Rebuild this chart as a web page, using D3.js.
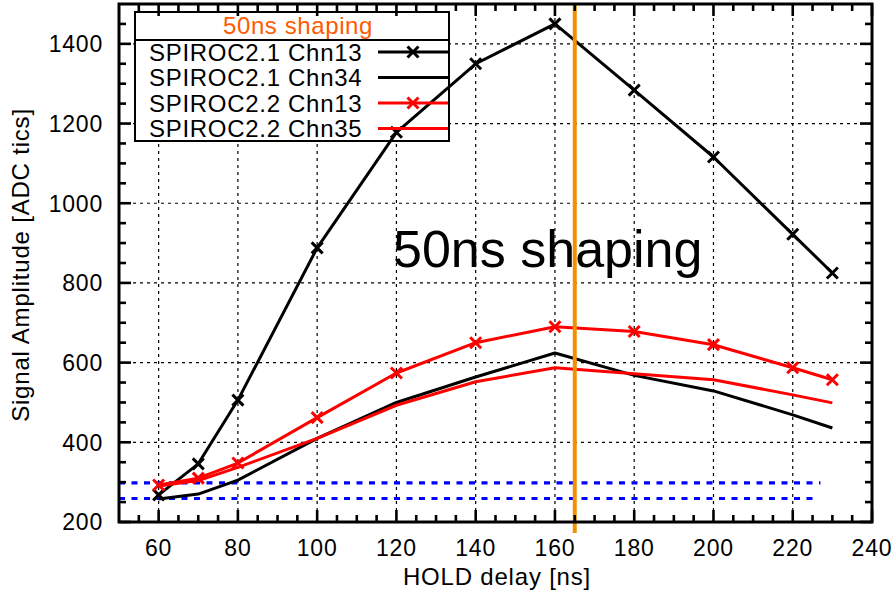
<!DOCTYPE html>
<html>
<head>
<meta charset="utf-8">
<script src="https://cdn.jsdelivr.net/npm/d3@7"></script>
<style>
  body { margin: 0; background: #fff; }
  text { font-family: "Liberation Sans", Arial, sans-serif; }
</style>
</head>
<body>
<div id="chart"></div>
<script>
// data
const holdDelay = [60, 70, 80, 100, 120, 140, 160, 180, 200, 220, 230];
const spiroc21Chn13 = [268, 346, 506, 888, 1178, 1350, 1450, 1284, 1116, 922, 825];
const spiroc21Chn34 = [258, 270, 305, 410, 500, 564, 624, 568, 529, 469, 436];
const spiroc22Chn13 = [293, 310, 348, 462, 574, 650, 690, 678, 645, 587, 557];
const spiroc22Chn35 = [290, 304, 337, 410, 493, 552, 587, 572, 557, 519, 499];
const seriesNames = ["SPIROC2.1 Chn13", "SPIROC2.1 Chn34", "SPIROC2.2 Chn13", "SPIROC2.2 Chn35"];
const xTicks = [60, 80, 100, 120, 140, 160, 180, 200, 220, 240];
const yTicks = [200, 400, 600, 800, 1000, 1200, 1400];
const pedestalLevels = [298, 259];
const pedestalEnds = [227, 225];
const shapingMark = 165;

const width = 893, height = 593;
const plotL = 119, plotR = 872, plotT = 4, plotB = 522;

const x = d3.scaleLinear().domain([50, 240]).range([plotL, plotR]);
const y = d3.scaleLinear().domain([200, 1500]).range([plotB, plotT]);

const svg = d3.select("#chart").append("svg")
    .attr("width", width)
    .attr("height", height);

// grid
const grid = svg.append("g")
    .attr("stroke", "#000")
    .attr("stroke-width", 1.2)
    .attr("stroke-dasharray", "3,4");
grid.selectAll("line.gx")
    .data(xTicks.filter(d => d > 50 && d < 240))
    .enter().append("line")
    .attr("x1", d => x(d)).attr("x2", d => x(d))
    .attr("y1", plotT).attr("y2", plotB);
grid.selectAll("line.gy")
    .data(yTicks.filter(d => d > 200))
    .enter().append("line")
    .attr("x1", plotL).attr("x2", plotR)
    .attr("y1", d => y(d)).attr("y2", d => y(d));

// pedestal lines
svg.selectAll("line.ped")
    .data(pedestalLevels)
    .enter().append("line")
    .attr("x1", x(50))
    .attr("x2", (d, i) => x(pedestalEnds[i]))
    .attr("y1", d => y(d)).attr("y2", d => y(d))
    .attr("stroke", "#0000ff")
    .attr("stroke-width", 3.2)
    .attr("stroke-dasharray", "6,6.5");

// legend box (drawn under the curves)
const lg = svg.append("g");
lg.append("rect")
    .attr("x", 135).attr("y", 12)
    .attr("width", 314).attr("height", 129)
    .attr("fill", "#fff")
    .attr("stroke", "#000")
    .attr("stroke-width", 2);
lg.append("line")
    .attr("x1", 135).attr("x2", 449)
    .attr("y1", 40).attr("y2", 40)
    .attr("stroke", "#000").attr("stroke-width", 2);
lg.append("text")
    .attr("x", 298).attr("y", 26).attr("dy", "0.35em")
    .attr("text-anchor", "middle")
    .attr("font-size", 24)
    .attr("letter-spacing", 0.6)
    .attr("fill", "#ff5a00")
    .text("50ns shaping");

const series = [
    { values: spiroc21Chn13, color: "#000", marker: true },
    { values: spiroc21Chn34, color: "#000", marker: false },
    { values: spiroc22Chn13, color: "#ff0000", marker: true },
    { values: spiroc22Chn35, color: "#ff0000", marker: false }
];

const line = d3.line()
    .x(d => x(d[0]))
    .y(d => y(d[1]));

function cross(g, cx, cy, color) {
    const s = 5.5;
    g.append("path")
        .attr("d", `M${cx - s},${cy - s}L${cx + s},${cy + s}M${cx - s},${cy + s}L${cx + s},${cy - s}`)
        .attr("stroke", color)
        .attr("stroke-width", 3)
        .attr("fill", "none");
}

series.forEach((s, i) => {
    const pts = holdDelay.map((d, j) => [d, s.values[j]]);
    const g = svg.append("g");
    g.append("path")
        .datum(pts)
        .attr("d", line)
        .attr("fill", "none")
        .attr("stroke", s.color)
        .attr("stroke-width", 3)
        .attr("stroke-linejoin", "round");
    if (s.marker) {
        pts.forEach(p => cross(g, x(p[0]), y(p[1]), s.color));
    }

    // legend entry
    const ly = 52 + i * 25.5;
    lg.append("text")
        .attr("x", 149).attr("y", ly).attr("dy", "0.36em")
        .attr("font-size", 24)
        .attr("letter-spacing", 0.7)
        .text(seriesNames[i]);
    svg.append("line")
        .attr("x1", 378).attr("x2", 448)
        .attr("y1", ly).attr("y2", ly)
        .attr("stroke", s.color).attr("stroke-width", 3);
    if (s.marker) cross(svg, 413, ly, s.color);
});

// big annotation
svg.append("text")
    .attr("x", 393).attr("y", 267)
    .attr("font-size", 52)
    .text("50ns shaping");

// shaping time marker
svg.append("line")
    .attr("x1", x(shapingMark)).attr("x2", x(shapingMark))
    .attr("y1", plotT).attr("y2", plotB + 11)
    .attr("stroke", "#f29100")
    .attr("stroke-width", 4);

// axes with inward ticks on all four sides
const tickW = 2.6;
function addTicks(vals, len, axisPos, dir, horiz) {
    svg.append("g").selectAll("line")
        .data(vals)
        .enter().append("line")
        .attr("x1", d => horiz ? x(d) : axisPos)
        .attr("x2", d => horiz ? x(d) : axisPos + dir * len)
        .attr("y1", d => horiz ? axisPos : y(d))
        .attr("y2", d => horiz ? axisPos + dir * len : y(d))
        .attr("stroke", "#000")
        .attr("stroke-width", tickW);
}
const xMinor = d3.range(55, 240, 5).filter(d => d % 20 !== 0);
const yMinor = d3.range(250, 1500, 50).filter(d => d % 200 !== 0);
addTicks(xTicks, 12, plotB, -1, true);
addTicks(xTicks, 12, plotT, 1, true);
addTicks(xMinor, 7, plotB, -1, true);
addTicks(xMinor, 7, plotT, 1, true);
addTicks(yTicks, 12, plotL, 1, false);
addTicks(yTicks, 12, plotR, -1, false);
addTicks(yMinor, 7, plotL, 1, false);
addTicks(yMinor, 7, plotR, -1, false);

svg.append("rect")
    .attr("x", plotL).attr("y", plotT)
    .attr("width", plotR - plotL).attr("height", plotB - plotT)
    .attr("fill", "none")
    .attr("stroke", "#000")
    .attr("stroke-width", 3);

// tick labels
svg.append("g").selectAll("text")
    .data(xTicks)
    .enter().append("text")
    .attr("x", d => x(d)).attr("y", 556)
    .attr("text-anchor", "middle")
    .attr("font-size", 23)
    .attr("letter-spacing", 0.8)
    .text(d => d);
svg.append("g").selectAll("text")
    .data(yTicks)
    .enter().append("text")
    .attr("x", 103).attr("y", d => y(d)).attr("dy", "0.36em")
    .attr("text-anchor", "end")
    .attr("font-size", 23)
    .attr("letter-spacing", 0.8)
    .text(d => d);

svg.append("text")
    .attr("x", 497).attr("y", 585)
    .attr("text-anchor", "middle")
    .attr("font-size", 24)
    .attr("letter-spacing", 0.8)
    .text("HOLD delay [ns]");
svg.append("text")
    .attr("transform", "translate(29,265) rotate(-90)")
    .attr("text-anchor", "middle")
    .attr("font-size", 24)
    .attr("letter-spacing", 0.8)
    .text("Signal Amplitude [ADC tics]");
</script>
</body>
</html>
